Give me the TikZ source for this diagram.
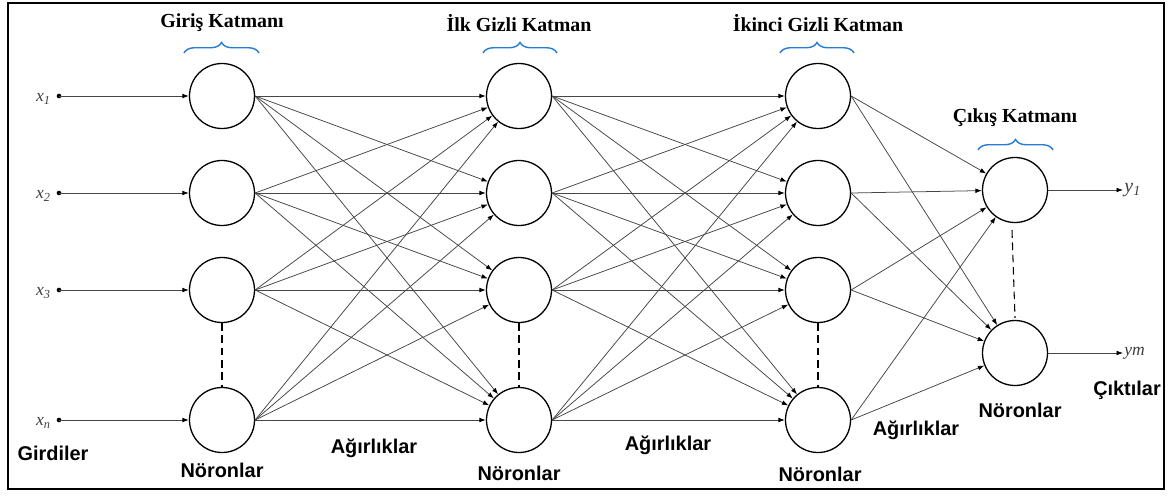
\documentclass[tikz,border=0pt]{standalone}
\usepackage{fontspec}
\setmainfont{Liberation Serif}
\newfontfamily\sanslabel{Liberation Sans}
\usetikzlibrary{arrows.meta, decorations.pathreplacing}

\definecolor{bracecol}{RGB}{38,124,214}
\definecolor{linkcol}{RGB}{70,70,70}

\tikzset{
  neuron/.style={circle, draw=black, line width=1.1pt, minimum size=1.95cm, inner sep=0pt},
  link/.style={->, draw=linkcol, line width=0.65pt},
  layertitle/.style={font=\bfseries\fontsize{17}{20}\selectfont},
  sanstitle/.style={font=\sanslabel\bfseries\fontsize{17}{20}\selectfont},
  varlabel/.style={font=\itshape\fontsize{15}{18}\selectfont, text=black!75, inner sep=1pt},
  layerbrace/.style={draw=bracecol, line width=1.2pt, decorate, decoration={brace, amplitude=9pt}},
  gapline/.style={draw=black, line width=0.9pt, dash pattern=on 6.5pt off 4pt}
}

\begin{document}
\begin{tikzpicture}[x=0.03cm, y=-0.03cm, >={Latex[length=5.5pt, width=4pt, color=black]}]

    \useasboundingbox (0,0) rectangle (1170,497);
    % cerceve
    \draw[line width=1.2pt] (8,3) rectangle (1164,489);

    % 1. Giris katmani
    \node[neuron] (in1) at (222,96) {};
    \node[neuron] (in2) at (222,193) {};
    \node[neuron] (in3) at (222,290) {};
    \node[neuron] (in4) at (222,420) {};
    \draw[gapline] (in3.south) -- (in4.north);
    \draw[layerbrace] (184,53) -- (259,53);
    \node[layertitle] (t1) at (222,23) {Giriş Katmanı};
    \node[sanstitle] (n1) at (222,470) {Nöronlar};

    % girdiler
    \foreach \i/\y/\s in {1/96/1, 2/193/2, 3/290/3, 4/420/n} {
      \coordinate (x\i) at (59,\y);
      \fill (x\i) circle (2pt);
      \node[varlabel, anchor=east] (lx\i) at (52,\y+3) {x\textsubscript{\s}};
      \draw[link] (x\i) -- (in\i);
    }
    \node[sanstitle] (gir) at (53,453) {Girdiler};

    % 2. Ilk gizli katman
    \node[neuron] (h1) at (519,96) {};
    \node[neuron] (h2) at (519,193) {};
    \node[neuron] (h3) at (519,290) {};
    \node[neuron] (h4) at (519,420) {};
    \draw[gapline] (h3.south) -- (h4.north);
    \draw[layerbrace] (483,53) -- (557,53);
    \node[layertitle] (t2) at (519,23) {İlk Gizli Katman};
    \node[sanstitle] (n2) at (519,473) {Nöronlar};

    % 3. Ikinci gizli katman
    \node[neuron] (g1) at (818,96) {};
    \node[neuron] (g2) at (818,193) {};
    \node[neuron] (g3) at (818,290) {};
    \node[neuron] (g4) at (818,420) {};
    \draw[gapline] (g3.south) -- (g4.north);
    \draw[layerbrace] (780,53) -- (854,53);
    \node[layertitle] (t3) at (818,23) {İkinci Gizli Katman};
    \node[sanstitle] (n3) at (820,474) {Nöronlar};

    % 4. Cikis katmani
    \node[neuron] (o1) at (1015,190) {};
    \node[neuron] (o2) at (1015,353) {};
    \draw[gapline] ([shift={(-3,7)}]o1.south) -- ([shift={(0,-2)}]o2.north);
    \draw[layerbrace] (978,150) -- (1053,150);
    \node[layertitle] (t4) at (1015,118) {Çıkış Katmanı};
    \node[sanstitle] (n4) at (1020,410) {Nöronlar};

    % baglantilar
    \foreach \i in {1,...,4} {
      \foreach \j in {1,...,4} {
        \draw[link] (in\i.east) -- (h\j);
        \draw[link] (h\i.east) -- (g\j);
      }
      \draw[link] (g\i.east) -- (o1);
      \draw[link] (g\i.east) -- (o2);
    }
    \node[sanstitle] (w1) at (374,448) {Ağırlıklar};
    \node[sanstitle] (w2) at (668,445) {Ağırlıklar};
    \node[sanstitle] (w3) at (916,430) {Ağırlıklar};

    % ciktilar
    \coordinate (y1) at (1123,190);
    \coordinate (y2) at (1123,353);
    \draw[link] (o1.east) -- (y1);
    \draw[link] (o2.east) -- (y2);
    \node[varlabel, anchor=west, font=\itshape\fontsize{17}{20}\selectfont] (ly1) at (y1) {y\textsubscript{1}};
    \node[varlabel, anchor=west, font=\itshape\fontsize{15}{18}\selectfont] (ly2) at (y2) {ym};
    \node[sanstitle] (cik) at (1127,390) {Çıktılar};

\end{tikzpicture}
\end{document}
